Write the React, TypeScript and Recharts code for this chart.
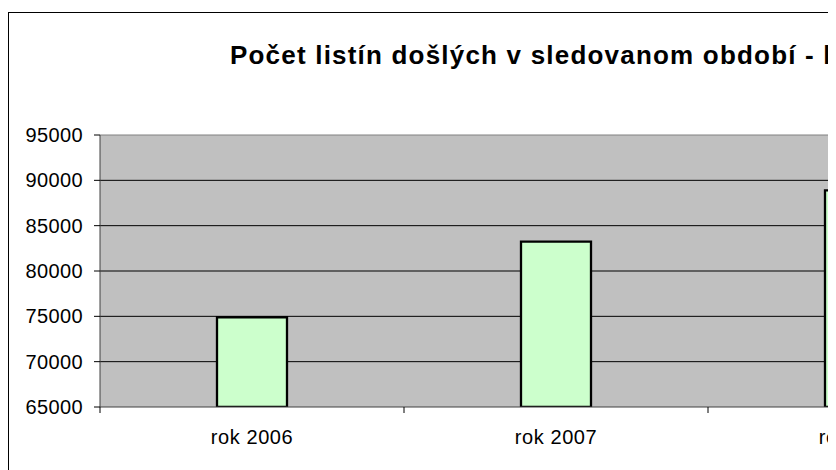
import { BarChart, Bar, XAxis, YAxis, CartesianGrid, ReferenceLine } from 'recharts';

const categories = ['rok 2006', 'rok 2007', 'rok 2008'];
const documentCounts = [74900, 83250, 88900];
const yTicks = [65000, 70000, 75000, 80000, 85000, 90000, 95000];
const gridValues = [70000, 75000, 80000, 85000, 90000];
const title = 'Počet listín došlých v sledovanom období - kraj';

const chartData = categories.map((name, i) => ({ name, count: documentCounts[i] }));

const FONT = '"Liberation Sans", Arial, sans-serif';

// category labels plus the small tick marks between the categories
function CategoryTick(props: any) {
  const { x, y, payload, index } = props;
  const half = payload && payload.offset ? payload.offset : 152;
  const last = index === categories.length - 1;
  return (
    <g>
      <line x1={x - half} y1={y} x2={x - half} y2={y + 6} stroke="#000" />
      {last && <line x1={x + half} y1={y} x2={x + half} y2={y + 6} stroke="#000" />}
      <text
        x={x}
        y={y + 37}
        textAnchor="middle"
        fill="#000"
        style={{ fontFamily: FONT, fontSize: 20, letterSpacing: 0.6 }}
      >
        {payload.value}
      </text>
    </g>
  );
}

function ValueTick(props: any) {
  const { x, y, payload } = props;
  return (
    <text
      x={x}
      y={y + 7}
      textAnchor="end"
      fill="#000"
      style={{ fontFamily: FONT, fontSize: 20, letterSpacing: 0.4 }}
    >
      {payload.value}
    </text>
  );
}

export default function App() {
  return (
    <div
      style={{
        position: 'relative',
        width: 828,
        height: 462,
        overflow: 'hidden',
        background: '#fff',
      }}
    >
      <div
        style={{
          position: 'absolute',
          left: 0,
          top: 4,
          width: 1300,
          height: 600,
          border: '1px solid #000',
          boxSizing: 'border-box',
        }}
      />
      <svg style={{ position: 'absolute', left: 0, top: 0 }} width={1100} height={100}>
        <text
          x={222}
          y={56}
          fill="#000"
          style={{ fontFamily: FONT, fontSize: 26, fontWeight: 'bold', letterSpacing: 1.2 }}
        >
          {title}
        </text>
      </svg>
      <div style={{ position: 'absolute', left: 0, top: 0 }}>
        <BarChart
          width={1100}
          height={520}
          data={chartData}
          margin={{ top: 127, right: 96, bottom: 81, left: 0 }}
        >
          <CartesianGrid
            vertical={false}
            horizontalValues={gridValues}
            stroke="#000"
            fill="#c0c0c0"
            fillOpacity={1}
          />
          <ReferenceLine y={95000} stroke="#808080" />
          <XAxis
            dataKey="name"
            height={40}
            tickLine={false}
            tickSize={0}
            tickMargin={0}
            stroke="#404040"
            tick={<CategoryTick />}
            interval={0}
          />
          <YAxis
            width={92}
            domain={[65000, 95000]}
            ticks={yTicks}
            interval={0}
            tickSize={6}
            tickMargin={11}
            stroke="#404040"
            tickLine={{ stroke: '#000' }}
            tick={<ValueTick />}
            allowDataOverflow
          />
          <Bar
            dataKey="count"
            barSize={70}
            fill="#ccffcc"
            stroke="#000"
            strokeWidth={2.3}
            isAnimationActive={false}
          />
        </BarChart>
      </div>
    </div>
  );
}
